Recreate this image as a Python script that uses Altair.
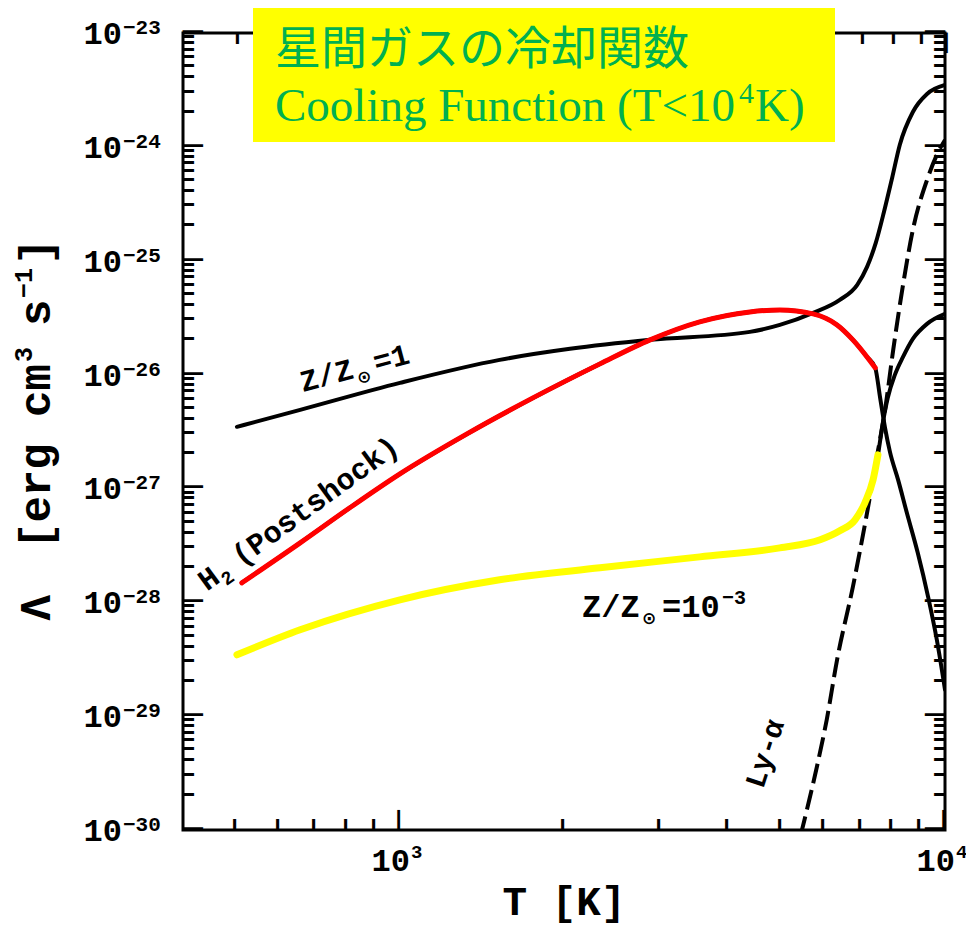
import altair as alt
import numpy as np
import pandas as pd

# ---------------- data (log10 values) ----------------
# Z/Z_sun = 1 (black)
z1_logT = [2.701, 2.817, 3.000, 3.183, 3.312, 3.459, 3.642, 3.697, 3.758, 3.807,
           3.839, 3.857, 3.873, 3.888, 3.903, 3.917, 3.941, 3.967, 4.000]
z1_logL = [-26.459, -26.310, -26.073, -25.871, -25.774, -25.695, -25.625, -25.564, -25.458, -25.344,
           -25.212, -25.054, -24.844, -24.572, -24.273, -23.983, -23.694, -23.536, -23.457]

# H2 (Postshock): black full curve, red over the first h2_red_n points
h2_logT = [2.710, 2.817, 2.908, 3.000, 3.123, 3.244, 3.367, 3.459, 3.550, 3.642,
           3.697, 3.758, 3.802, 3.831, 3.857, 3.872, 3.881, 3.890, 3.899, 3.914,
           3.930, 3.950, 3.969, 3.985, 4.000]
h2_logL = [-27.829, -27.478, -27.170, -26.872, -26.521, -26.205, -25.906, -25.695, -25.537, -25.450,
           -25.432, -25.467, -25.564, -25.695, -25.845, -25.941, -26.205, -26.468, -26.679, -26.925,
           -27.214, -27.565, -27.952, -28.329, -28.768]
h2_red_n = 16

# Z/Z_sun = 1e-3: black full curve, yellow over the first z3_yellow_n points
z3_logT = [2.701, 2.817, 3.000, 3.183, 3.367, 3.550, 3.697, 3.771, 3.807, 3.835,
           3.853, 3.868, 3.877, 3.886, 3.895, 3.908, 3.923, 3.941, 3.967, 4.000]
z3_logL = [-28.461, -28.241, -27.978, -27.802, -27.697, -27.601, -27.522, -27.451, -27.372, -27.276,
           -27.126, -26.925, -26.705, -26.424, -26.205, -26.003, -25.845, -25.687, -25.555, -25.467]
z3_yellow_n = 13

# Ly-alpha (dashed)
lya_logT = [3.735, 3.765, 3.783, 3.802, 3.831, 3.857, 3.875, 3.890, 3.905, 3.923,
            3.941, 3.967, 3.985, 4.000]
lya_logL = [-30.05, -29.444, -29.032, -28.505, -27.864, -27.214, -26.723, -26.310, -25.783, -25.212,
            -24.730, -24.291, -24.071, -23.939]

# axis ticks / labels
y_exps = [-30, -29, -28, -27, -26, -25, -24, -23]
y_exp_labels = ["−30", "−29", "−28", "−27", "−26", "−25", "−24", "−23"]
y_minor_mult = [2, 3, 4, 5, 6, 7, 8, 9]
x_major = [1000, 10000]
x_major_exp = ["3", "4"]
x_minor = [500, 600, 700, 800, 900, 2000, 3000, 4000, 5000, 6000, 7000, 8000, 9000]

# annotation anchors (log10 T, log10 Lambda)
ann_z1 = (2.822, -26.152)
ann_h2 = (2.646, -27.908)
ann_z3 = (3.334, -28.127)
ann_lya = (3.666, -29.646)

title_jp = "星間ガスの冷却関数"
title_en = "Cooling Function (T<10"
title_en_sup = "4"
title_en_end = "K)"

# ---------------- chart ----------------
W, H = 762, 797
T_MIN, T_MAX = 400.0, 10000.0
L_MIN, L_MAX = 1e-30, 1e-23
xs = alt.Scale(type="log", domain=[T_MIN, T_MAX], nice=False)
ys = alt.Scale(type="log", domain=[L_MIN, L_MAX], nice=False)
MONO = "Liberation Mono"
GREEN = "#00B050"


def curve_df(logT, logL):
    return pd.DataFrame({"T": 10 ** np.array(logT), "L": 10 ** np.array(logL),
                         "i": np.arange(len(logT))})


def line(df, color, width, dash=None):
    kw = dict(color=color, strokeWidth=width, clip=True, interpolate="monotone",
              strokeJoin="round", strokeCap="round")
    if dash:
        kw["strokeDash"] = dash
        kw["strokeCap"] = "butt"
    return alt.Chart(df).mark_line(**kw).encode(
        x=alt.X("T:Q", scale=xs, axis=None),
        y=alt.Y("L:Q", scale=ys, axis=None),
        order="i:Q")


def ann(anchor, text, angle=0, dx=0, dy=0, size=28, font=MONO, weight="bold"):
    df = pd.DataFrame({"T": [10 ** anchor[0]], "L": [10 ** anchor[1]]})
    return alt.Chart(df).mark_text(
        text=text, angle=angle, dx=dx, dy=dy, fontSize=size, font=font,
        fontWeight=weight, align="left", baseline="alphabetic", color="black"
    ).encode(x=alt.X("T:Q", scale=xs, axis=None), y=alt.Y("L:Q", scale=ys, axis=None))


def ptext(x, y, text, size, font=MONO, weight="bold", align="left", baseline="alphabetic",
          angle=0, dx=0, dy=0, color="black"):
    return alt.Chart(pd.DataFrame({"a": [0]})).mark_text(
        text=text, fontSize=size, font=font, fontWeight=weight, align=align,
        baseline=baseline, angle=angle, dx=dx, dy=dy, color=color
    ).encode(x=alt.value(x), y=alt.value(y))


layers = []

# ---- inward ticks on all four sides, drawn as box-drawing line glyphs placed by the scales
y_major_vals = [10.0 ** e for e in y_exps]
y_minor_vals = [k * 10.0 ** e for e in y_exps[:-1] for k in y_minor_mult]
TICK_FONT = "DejaVu Sans Mono"
MAJ_GLYPH, MAJ_FS = "─", 33   # ~20 px long
MIN_GLYPH, MIN_FS = "━", 18   # ~11 px long


def ytick_text(vals, glyph, fs, xpos, align):
    return alt.Chart(pd.DataFrame({"tv": vals})).mark_text(
        text=glyph, fontSize=fs, font=TICK_FONT, align=align, baseline="middle", color="black"
    ).encode(y=alt.Y("tv:Q", scale=ys, axis=None), x=alt.value(xpos))


def xtick_text(vals, glyph, fs, ypos, angle):
    return alt.Chart(pd.DataFrame({"tv": vals})).mark_text(
        text=glyph, fontSize=fs, font=TICK_FONT, align="left", baseline="middle",
        angle=angle, color="black"
    ).encode(x=alt.X("tv:Q", scale=xs, axis=None), y=alt.value(ypos))


layers += [
    ytick_text(y_major_vals, MAJ_GLYPH, MAJ_FS, 0, "left"),
    ytick_text(y_minor_vals, MIN_GLYPH, MIN_FS, 0, "left"),
    ytick_text(y_major_vals, MAJ_GLYPH, MAJ_FS, W, "right"),
    ytick_text(y_minor_vals, MIN_GLYPH, MIN_FS, W, "right"),
    xtick_text(x_major, MAJ_GLYPH, MAJ_FS, H, 270),
    xtick_text(x_minor, MIN_GLYPH, MIN_FS, H, 270),
    xtick_text(x_major, MAJ_GLYPH, MAJ_FS, 0, 90),
    xtick_text(x_minor, MIN_GLYPH, MIN_FS, 0, 90),
]

# curves
layers += [
    line(curve_df(z1_logT, z1_logL), "black", 4),
    line(curve_df(h2_logT, h2_logL), "black", 4),
    line(curve_df(z3_logT, z3_logL), "black", 4),
    line(curve_df(lya_logT, lya_logL), "black", 4, dash=[20, 7]),
    line(curve_df(h2_logT[:h2_red_n], h2_logL[:h2_red_n]), "#ff0000", 5),
    line(curve_df(z3_logT[:z3_yellow_n], z3_logL[:z3_yellow_n]), "#ffff00", 7),
]

# tick labels
ylab = pd.DataFrame({"v": y_major_vals, "e": y_exp_labels})
layers.append(alt.Chart(ylab).mark_text(
    text="10", align="right", baseline="middle", fontSize=32, font=MONO, fontWeight="bold", dy=1
).encode(y=alt.Y("v:Q", scale=ys, axis=None), x=alt.value(-61)))
layers.append(alt.Chart(ylab).mark_text(
    align="left", baseline="middle", fontSize=21, font=MONO, fontWeight="bold", dy=-5
).encode(y=alt.Y("v:Q", scale=ys, axis=None), x=alt.value(-60), text="e:N"))

xlab = pd.DataFrame({"v": x_major, "e": x_major_exp})
layers.append(alt.Chart(xlab).mark_text(
    text="10", align="right", baseline="middle", fontSize=32, font=MONO, fontWeight="bold", dx=10
).encode(x=alt.X("v:Q", scale=xs, axis=None), y=alt.value(H + 31)))
layers.append(alt.Chart(xlab).mark_text(
    align="left", baseline="middle", fontSize=19, font=MONO, fontWeight="bold", dx=11
).encode(x=alt.X("v:Q", scale=xs, axis=None), y=alt.value(H + 22), text="e:N"))

# axis titles
layers.append(ptext(W / 2, H + 85, "T [K]", 41, align="center"))
yx, yy = -133, 588
layers += [
    ptext(yx, yy, "Λ", 44, angle=270),
    ptext(yx, yy, "[erg cm", 44, angle=270, dx=72),
    ptext(yx, yy, "3", 25, angle=270, dx=259, dy=-18),
    ptext(yx, yy, "s", 44, angle=270, dx=295),
    ptext(yx, yy, "−1", 25, angle=270, dx=323, dy=-18),
    ptext(yx, yy, "]", 44, angle=270, dx=356),
]

# annotations
layers += [
    ann(ann_z1, "Z/Z", angle=345, size=30),
    ann(ann_z1, "⊙", angle=345, size=17, dx=56, dy=7, font="DejaVu Sans"),
    ann(ann_z1, "=1", angle=345, size=30, dx=76),
    ann(ann_h2, "H", angle=324, size=30),
    ann(ann_h2, "2", angle=324, size=19, dx=19, dy=7),
    ann(ann_h2, "(Postshock)", angle=324, size=30, dx=42),
    ann(ann_z3, "Z/Z", size=32),
    ann(ann_z3, "⊙", size=17, dx=60, dy=7, font="DejaVu Sans"),
    ann(ann_z3, "=10", size=32, dx=80),
    ann(ann_z3, "−3", size=20, dx=140, dy=-13),
    ann(ann_lya, "Ly-α", angle=288, size=29),
]

# yellow title box
layers.append(alt.Chart(pd.DataFrame({"a": [0]})).mark_rect(color="#ffff00").encode(
    x=alt.value(70), x2=alt.value(652), y=alt.value(-25), y2=alt.value(109)))
layers.append(ptext(92, 17, title_jp, 46, font="Noto Sans CJK JP", weight="normal",
                    baseline="middle", color=GREEN))
layers.append(ptext(92, 88, title_en, 47, font="Liberation Serif", weight="normal", color=GREEN))
layers.append(ptext(556, 70, title_en_sup, 30, font="Liberation Serif", weight="normal", color=GREEN))
layers.append(ptext(572, 88, title_en_end, 47, font="Liberation Serif", weight="normal", color=GREEN))

chart = alt.layer(*layers).properties(
    width=W, height=H,
    autosize=alt.AutoSizeParams(type="none"),
    padding={"left": 175, "top": 25, "right": 21, "bottom": 101},
).configure_view(stroke="black", strokeWidth=3)

chart.save("out.html", embed_options={"renderer": "svg", "actions": False})
